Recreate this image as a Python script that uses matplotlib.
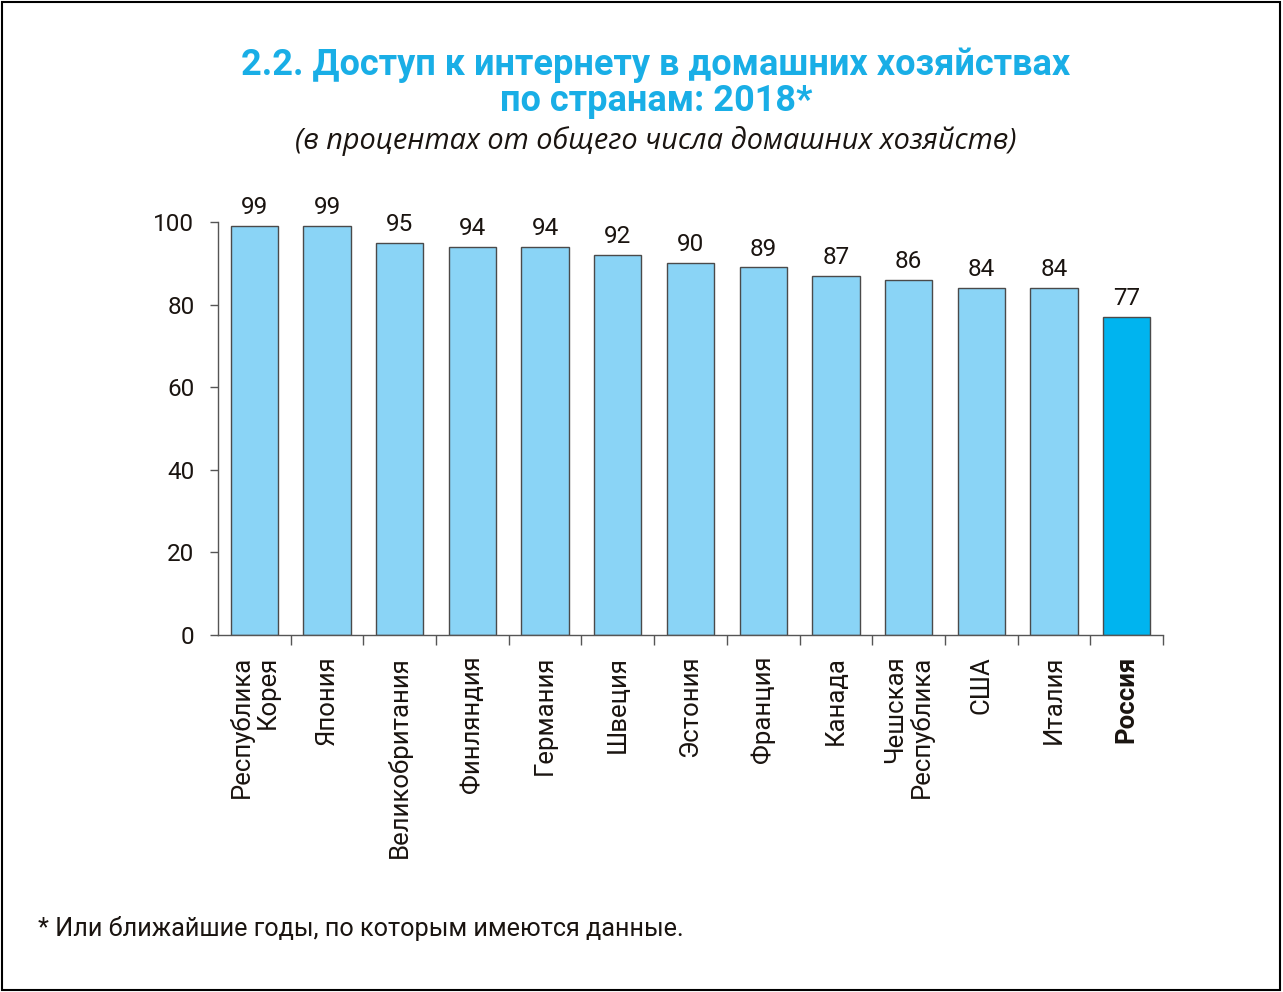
import matplotlib
matplotlib.use("Agg")
import matplotlib.pyplot as plt
from matplotlib.patches import Rectangle
from matplotlib.ticker import FixedLocator
import numpy as np

countries = ["Республика\nКорея", "Япония", "Великобритания", "Финляндия", "Германия",
             "Швеция", "Эстония", "Франция", "Канада", "Чешская\nРеспублика",
             "США", "Италия", "Россия"]
values = [99, 99, 95, 94, 94, 92, 90, 89, 87, 86, 84, 84, 77]
yticks = [0, 20, 40, 60, 80, 100]

title = "2.2. Доступ к интернету в домашних хозяйствах\nпо странам: 2018*"
subtitle = "(в процентах от общего числа домашних хозяйств)"
footnote = "* Или ближайшие годы, по которым имеются данные."

NARROW = ["Roboto", "DejaVu Sans"]
light = "#8AD4F6"
dark = "#00B4EF"
title_color = "#19AEE6"
text_color = "#1a1410"
axis_color = "#555555"

fig = plt.figure(figsize=(12.83, 9.92), dpi=100)
ax = fig.add_axes([218/1283, 1-635/992, (1163-218)/1283, (635-222)/992])

x = np.arange(len(values))
colors = [light]*(len(values)-1) + [dark]
ax.bar(x, values, width=0.65, color=colors, edgecolor="#4a4a4a", linewidth=1.0, zorder=2)

for xi, v in zip(x, values):
    ax.annotate(str(v), (xi, v), xytext=(0, 8.5), textcoords="offset points",
                ha="center", va="baseline", fontsize=17.5, family=NARROW, color=text_color)

ax.set_xlim(-0.5, len(values)-0.5)
ax.set_ylim(0, 100)
ax.set_yticks(yticks)
ax.set_yticklabels([str(t) for t in yticks], fontsize=17.5, family=NARROW, color=text_color)
ax.tick_params(axis="y", length=6, width=1, color=axis_color, pad=11, direction="out")

ax.set_xticks(x)
ax.set_xticklabels(countries, rotation=90, fontsize=18.5, family=NARROW, color=text_color,
                   multialignment="right", linespacing=1.1)
ax.tick_params(axis="x", which="major", length=0, pad=15)
ax.xaxis.set_minor_locator(FixedLocator(np.arange(0.5, len(values), 1.0)))
ax.tick_params(axis="x", which="minor", length=7, width=1, color=axis_color, direction="out")
ax.get_xticklabels()[-1].set_fontweight("bold")

for s in ["top", "right"]:
    ax.spines[s].set_visible(False)
for s in ["left", "bottom"]:
    ax.spines[s].set_color(axis_color)
    ax.spines[s].set_linewidth(1.0)

fig.text(656/1283, 1-75/992, title.split("\n")[0], ha="center", va="baseline", fontsize=26,
         fontweight="bold", family=NARROW, color=title_color)
fig.text(656/1283, 1-111/992, title.split("\n")[1], ha="center", va="baseline", fontsize=26,
         fontweight="bold", family=NARROW, color=title_color)
fig.text(656/1283, 1-149/992, subtitle, ha="center", va="baseline", fontsize=20.8, style="italic",
         family=["Open Sans", "DejaVu Sans"], color=text_color)
fig.text(38/1283, 1-936/992, footnote, ha="left", va="baseline", fontsize=18.2,
         family=NARROW, color=text_color)

fig.add_artist(Rectangle((0.0015, 0.002), 0.996, 0.996, transform=fig.transFigure,
                         fill=False, edgecolor="black", linewidth=1.5))

fig.savefig("out.png", dpi=100)
